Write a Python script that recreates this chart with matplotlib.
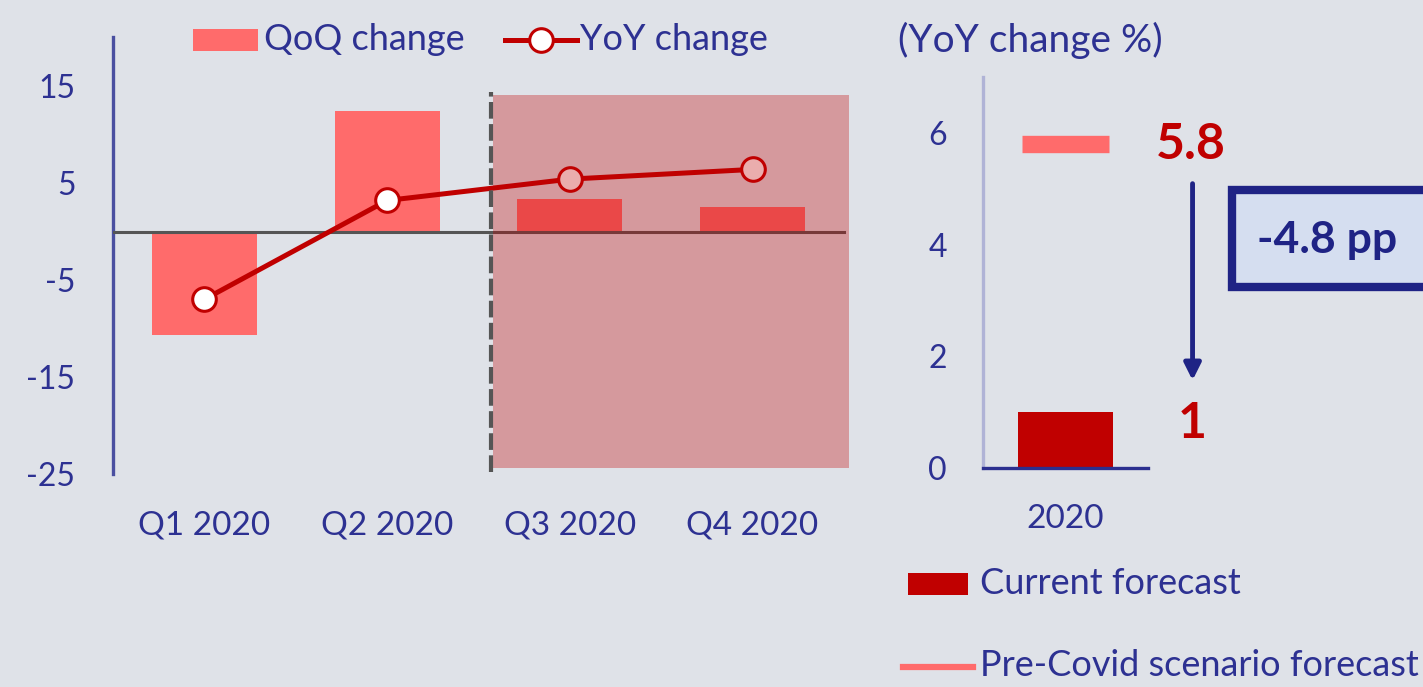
import matplotlib
matplotlib.use('Agg')
import matplotlib.pyplot as plt
from matplotlib.patches import Rectangle
from matplotlib.lines import Line2D

# ---------------- data ----------------
quarters = ['Q1 2020', 'Q2 2020', 'Q3 2020', 'Q4 2020']
qoq_change = [-10.7, 12.4, 3.3, 2.5]
yoy_change = [-7.0, 3.2, 5.4, 6.4]
left_yticks = [15, 5, -5, -15, -25]

forecast_year = ['2020']
current_forecast = [1.0]
pre_covid_forecast = [5.8]
right_yticks = [0, 2, 4, 6]

# ---------------- style ----------------
plt.rcParams['font.family'] = ['Lato', 'DejaVu Sans']
plt.rcParams['axes.unicode_minus'] = False
BG = '#dfe2e8'
NAVY = '#2d3192'
NAVY_DARK = '#1f2385'
SALMON = '#ff6b6b'
DARKRED = '#c00000'

W, H = 1423, 687
fig = plt.figure(figsize=(W / 100, H / 100), dpi=100, facecolor=BG)


def fx(p):
    return p / W


def fy(p):
    return 1 - p / H


# ---------------- left panel ----------------
ax1 = fig.add_axes([fx(113), fy(474), (853 - 113) / W, (474 - 37.5) / H])
ax1.patch.set_alpha(0)
x = list(range(len(quarters)))
ax1.set_xlim(-0.5, 3.55)
ax1.set_ylim(-25, 20)
ax1.bar(x, qoq_change, width=0.575, color=SALMON, zorder=2)
ax1.axhline(0, xmin=0, xmax=4.0 / 4.05, color='#555555', lw=2.2, zorder=3)
ax1.plot(x, yoy_change, color=DARKRED, lw=3.6, marker='o', ms=17,
         mfc='white', mec=DARKRED, mew=2.2, zorder=4)
ax1.add_patch(Rectangle((1.58, -24.4), 3.53 - 1.58, 14.1 + 24.4,
                        facecolor=DARKRED, alpha=0.32, lw=0, zorder=5,
                        clip_on=False))
ax1.plot([1.567, 1.567], [-24.8, 14.4], ls=(0, (4, 1.3)), color='#555555',
         lw=3, zorder=6, clip_on=False)
for s in ['top', 'right', 'bottom']:
    ax1.spines[s].set_visible(False)
ax1.spines['left'].set_color('#4a4fa0')
ax1.spines['left'].set_linewidth(2.4)
ax1.set_yticks(left_yticks)
ax1.set_xticks(x)
ax1.set_xticklabels(quarters)
ax1.tick_params(axis='y', length=0, pad=27, labelsize=23, labelcolor=NAVY)
ax1.tick_params(axis='x', length=0, pad=26, labelsize=24, labelcolor=NAVY)

# left legend
fig.patches.append(Rectangle((fx(193), fy(51)), (258 - 193) / W, 22 / H,
                             transform=fig.transFigure, facecolor=SALMON,
                             lw=0))
fig.text(fx(264), fy(40), 'QoQ change', ha='left', va='center',
         fontsize=26, color=NAVY)
fig.lines.append(Line2D([fx(505), fx(577)], [fy(40), fy(40)],
                        transform=fig.transFigure, color=DARKRED, lw=3.6))
fig.lines.append(Line2D([fx(541)], [fy(40)], transform=fig.transFigure,
                        marker='o', ms=17, mfc='white', mec=DARKRED, mew=2.2,
                        ls='none'))
fig.text(fx(580), fy(40), 'YoY change', ha='left', va='center',
         fontsize=26, color=NAVY)

# ---------------- right panel ----------------
ax2 = fig.add_axes([fx(983), fy(468), 165 / W, 391 / H])
ax2.patch.set_alpha(0)
ax2.set_xlim(-0.5, 0.5)
ax2.set_ylim(0, 7)
ax2.bar([0], current_forecast, width=0.58, color=DARKRED, zorder=2)
ax2.plot([-0.264, 0.264], [pre_covid_forecast[0]] * 2, color=SALMON,
         lw=12.5, solid_capstyle='butt', zorder=3)
for s in ['top', 'right']:
    ax2.spines[s].set_visible(False)
ax2.spines['left'].set_color('#b0b3d6')
ax2.spines['left'].set_linewidth(2.4)
ax2.spines['bottom'].set_color('#2b2f8f')
ax2.spines['bottom'].set_linewidth(2.4)
ax2.set_yticks(right_yticks)
ax2.set_xticks([0])
ax2.set_xticklabels(forecast_year)
ax2.tick_params(axis='y', length=0, pad=26, labelsize=23, labelcolor=NAVY)
ax2.tick_params(axis='x', length=0, pad=26, labelsize=24, labelcolor=NAVY)

ax2.text(0.76, pre_covid_forecast[0], f'{pre_covid_forecast[0]:g}',
         ha='center', va='center', fontsize=36, fontweight='bold',
         color=DARKRED, clip_on=False)
ax2.text(0.767, current_forecast[0] - 0.2, f'{current_forecast[0]:g}',
         ha='center', va='center', fontsize=36, fontweight='bold',
         color=DARKRED, clip_on=False)
ax2.annotate('', xy=(0.77, current_forecast[0] + 0.57),
             xytext=(0.77, pre_covid_forecast[0] - 0.71),
             arrowprops=dict(arrowstyle='-|>', color=NAVY_DARK, lw=3.5,
                             mutation_scale=25, shrinkA=0, shrinkB=0),
             annotation_clip=False)

# difference box
diff = current_forecast[0] - pre_covid_forecast[0]
fig.patches.append(Rectangle((fx(1232), fy(287)), (1440 - 1232) / W,
                             (287 - 190) / H, transform=fig.transFigure,
                             facecolor='#d5def0', edgecolor=NAVY_DARK, lw=6))
fig.text(fx(1257), fy(240), f'{diff:.1f} pp', ha='left', va='center',
         fontsize=32, fontweight='bold', color=NAVY_DARK)

fig.text(fx(898), fy(40), '(YoY change %)', ha='left', va='center',
         fontsize=28, color=NAVY)

# right legend
fig.patches.append(Rectangle((fx(908), fy(595)), (968 - 908) / W, 22 / H,
                             transform=fig.transFigure, facecolor=DARKRED,
                             lw=0))
fig.text(fx(980), fy(584), 'Current forecast', ha='left', va='center',
         fontsize=26, color=NAVY)
fig.lines.append(Line2D([fx(903), fx(973)], [fy(667), fy(667)],
                        transform=fig.transFigure, color=SALMON, lw=4.5))
fig.text(fx(980), fy(665), 'Pre-Covid scenario forecast', ha='left',
         va='center', fontsize=26, color=NAVY)

fig.savefig('out.png', dpi=100, facecolor=BG)
